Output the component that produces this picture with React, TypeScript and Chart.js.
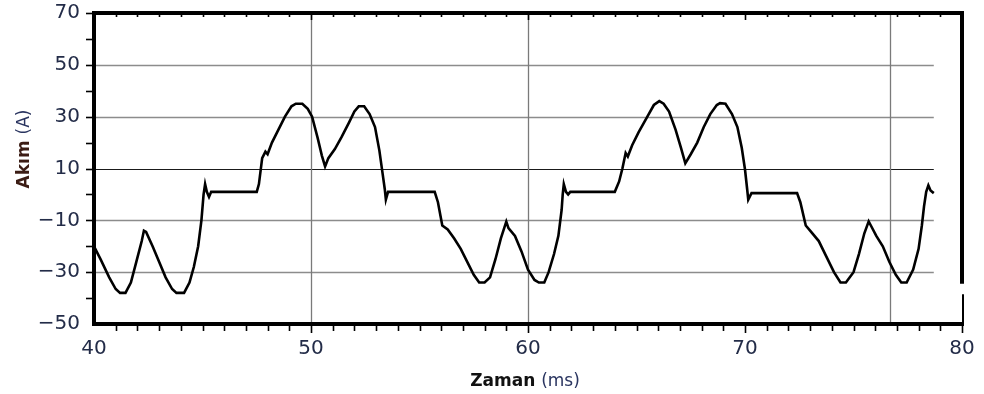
import React, { useEffect, useRef } from "react";
import { Chart, registerables } from "chart.js";

Chart.register(...registerables);

// Time (ms) and current (A) samples
const timeMs: number[] = [
  40.0, 40.3, 40.7, 41.0, 41.2, 41.45, 41.7, 41.95, 42.2, 42.3, 42.4, 42.7, 43.0, 43.3, 43.6, 43.8, 44.15, 44.4, 44.6, 44.8,
  44.95, 45.05, 45.12, 45.2, 45.3, 45.4, 47.5, 47.6, 47.75, 47.9, 48.0, 48.2, 48.5, 48.8, 49.1, 49.3, 49.6, 49.85, 50.05, 50.3,
  50.5, 50.65, 50.8, 51.1, 51.4, 51.75, 52.0, 52.2, 52.45, 52.7, 52.95, 53.15, 53.3, 53.4, 53.45, 53.55, 55.7, 55.85, 56.05, 56.3,
  56.6, 56.9, 57.2, 57.5, 57.75, 58.0, 58.25, 58.5, 58.75, 59.0, 59.1, 59.4, 59.7, 60.0, 60.3, 60.5, 60.75, 60.95, 61.2, 61.4,
  61.55, 61.6, 61.65, 61.75, 61.85, 61.95, 64.0, 64.2, 64.35, 64.5, 64.6, 64.8, 65.1, 65.5, 65.8, 66.05, 66.25, 66.5, 66.8, 67.05,
  67.25, 67.5, 67.8, 68.1, 68.4, 68.7, 68.85, 69.1, 69.4, 69.65, 69.85, 70.0, 70.1, 70.15, 70.3, 72.4, 72.55, 72.8, 73.0, 73.4,
  73.75, 74.1, 74.4, 74.65, 75.0, 75.25, 75.5, 75.7, 75.8, 76.05, 76.35, 76.65, 76.95, 77.2, 77.45, 77.75, 78.0, 78.15, 78.25, 78.35,
  78.45, 78.55, 78.7,
];

const currentA: number[] = [
  -20, -25, -32, -36.5, -38, -38, -34, -26, -18, -14, -14.5, -20, -26, -32, -36.5, -38, -38, -34, -28, -20,
  -10, 0, 4, 1, -1, 1, 1, 4, 14, 16.5, 15.5, 20, 25, 30, 34, 35, 35, 33, 30, 22,
  15, 10.8, 14, 17.5, 22, 27.7, 32, 34, 34, 31, 26, 17, 8, 2, -2, 1, 1, -3, -12, -13.5,
  -17, -21, -26, -31, -34, -34, -32, -25, -17, -10.5, -13, -16, -22, -29, -33, -34, -34, -30, -23, -16,
  -6, 0, 4, 1, 0, 1, 1, 5, 10, 16, 14.6, 19, 24, 30, 34.5, 36, 35, 32, 25, 18,
  12, 15.5, 20, 26, 31, 34.5, 35.2, 35, 31, 26, 18, 9.6, 2, -2, 0.5, 0.5, -3, -12, -14, -18,
  -24, -30, -34, -34, -30, -23, -15, -10.4, -12, -16, -20, -26, -31, -34, -34, -29, -21, -12, -4.6, 1,
  3.5, 1.5, 0.5,
];

const xMin = 40;
const xMax = 80;
const yMin = -50;
const yMax = 70;
const hGridValues: number[] = [50, 30, 10, -10, -30];
const vGridValues: number[] = [50, 60, 76.7];
const gridEndTime = 78.7;

const xTitleBold = "Zaman";
const xTitleNormal = "(ms)";
const yTitleBold = "Akım";
const yTitleNormal = "(A)";

const FONT = "'DejaVu Sans', 'Liberation Sans', sans-serif";
const LABEL_COLOR = "#232c48";
const NAVY = "#2a3560";

const framePlugin = {
  id: "framePlugin",
  beforeDatasetsDraw(chart: any) {
    const { ctx, chartArea, scales } = chart;
    const xs = scales.x;
    const ys = scales.y;
    ctx.save();
    const xEnd = xs.getPixelForValue(gridEndTime);
    hGridValues.forEach((v) => {
      const y = Math.round(ys.getPixelForValue(v)) + 0.5;
      ctx.beginPath();
      ctx.strokeStyle = v === 10 ? "#1a1a1a" : "#8c8c8c";
      ctx.lineWidth = v === 10 ? 1.2 : 1.3;
      ctx.moveTo(chartArea.left, y);
      ctx.lineTo(xEnd, y);
      ctx.stroke();
    });
    vGridValues.forEach((t) => {
      const x = Math.round(xs.getPixelForValue(t)) + 0.5;
      ctx.beginPath();
      ctx.strokeStyle = "#7a7a7a";
      ctx.lineWidth = 1.3;
      ctx.moveTo(x, chartArea.top);
      ctx.lineTo(x, chartArea.bottom);
      ctx.stroke();
    });
    ctx.restore();
  },
  afterDatasetsDraw(chart: any) {
    const { ctx, chartArea, scales } = chart;
    const xs = scales.x;
    const ys = scales.y;
    const { left, right, top, bottom } = chartArea;
    ctx.save();
    ctx.strokeStyle = "#000";
    ctx.lineWidth = 1.6;
    for (let t = xMin + 1; t <= xMax; t += 1) {
      const x = Math.round(xs.getPixelForValue(t)) + 0.5;
      const major = t % 10 === 0;
      ctx.beginPath();
      ctx.moveTo(x, bottom);
      ctx.lineTo(x, bottom + (major ? 9 : 7));
      ctx.stroke();
      if (t < xMax) {
        ctx.beginPath();
        ctx.moveTo(x, top);
        ctx.lineTo(x, top + (major ? 7 : 4));
        ctx.stroke();
      }
    }
    for (let v = yMin + 10; v <= yMax; v += 10) {
      const y = Math.round(ys.getPixelForValue(v)) + 0.5;
      ctx.beginPath();
      ctx.moveTo(left, y);
      ctx.lineTo(left - 8, y);
      ctx.stroke();
    }
    ctx.lineWidth = 4;
    ctx.beginPath();
    ctx.moveTo(left, top);
    ctx.lineTo(right, top);
    ctx.moveTo(left, top - 2);
    ctx.lineTo(left, bottom + 2);
    ctx.moveTo(left - 2, bottom);
    ctx.lineTo(right + 2, bottom);
    ctx.stroke();
    ctx.beginPath();
    ctx.moveTo(right, top - 2);
    ctx.lineTo(right, ys.getPixelForValue(-34.5));
    ctx.stroke();
    ctx.lineWidth = 2;
    ctx.beginPath();
    ctx.moveTo(right + 1, ys.getPixelForValue(-38.5));
    ctx.lineTo(right + 1, bottom);
    ctx.stroke();

    ctx.textBaseline = "alphabetic";
    ctx.font = `bold 17px ${FONT}`;
    const wb = ctx.measureText(xTitleBold + " ").width;
    ctx.font = `17px ${FONT}`;
    const wn = ctx.measureText(xTitleNormal).width;
    const cx = (left + right) / 2 - 3;
    const sx = cx - (wb + wn) / 2;
    ctx.font = `bold 17px ${FONT}`;
    ctx.fillStyle = "#111111";
    ctx.fillText(xTitleBold, sx, 386);
    ctx.font = `17px ${FONT}`;
    ctx.fillStyle = NAVY;
    ctx.fillText(xTitleNormal, sx + wb, 386);

    ctx.translate(29, 149);
    ctx.rotate(-Math.PI / 2);
    ctx.font = `bold 17px ${FONT}`;
    const wb2 = ctx.measureText(yTitleBold + " ").width;
    ctx.font = `17px ${FONT}`;
    const wn2 = ctx.measureText(yTitleNormal).width;
    const sy = -(wb2 + wn2) / 2;
    ctx.font = `bold 17px ${FONT}`;
    ctx.fillStyle = "#3b1c14";
    ctx.fillText(yTitleBold, sy, 0);
    ctx.font = `17px ${FONT}`;
    ctx.fillStyle = NAVY;
    ctx.fillText(yTitleNormal, sy + wb2, 0);
    ctx.restore();
  },
};

export default function App() {
  const canvasRef = useRef<HTMLCanvasElement | null>(null);

  useEffect(() => {
    if (!canvasRef.current) return;
    const points = timeMs.map((t, i) => ({ x: t, y: currentA[i] }));
    const chart = new Chart(canvasRef.current, {
      type: "line",
      data: {
        datasets: [
          {
            data: points,
            borderColor: "#000000",
            borderWidth: 2.6,
            pointRadius: 0,
            tension: 0,
            fill: false,
          },
        ],
      },
      options: {
        animation: false,
        responsive: true,
        maintainAspectRatio: false,
        layout: { padding: { left: 0, top: 13, right: 22, bottom: 0 } },
        plugins: { legend: { display: false }, tooltip: { enabled: false } },
        scales: {
          x: {
            type: "linear",
            min: xMin,
            max: xMax,
            grid: { display: false, drawTicks: false },
            border: { display: false },
            ticks: {
              stepSize: 10,
              padding: 13,
              color: LABEL_COLOR,
              font: { family: FONT, size: 20 },
              maxRotation: 0,
            },
            afterFit: (s: any) => {
              s.height = 70;
              s.paddingLeft = 0;
              s.paddingRight = 0;
            },
          },
          y: {
            type: "linear",
            min: yMin,
            max: yMax,
            grid: { display: false, drawTicks: false },
            border: { display: false },
            ticks: {
              stepSize: 20,
              padding: 14,
              color: LABEL_COLOR,
              font: { family: FONT, size: 20 },
              callback: (v: any) => String(v).replace("-", "\u2212"),
            },
            afterFit: (s: any) => {
              s.width = 94;
              s.paddingTop = 0;
              s.paddingBottom = 0;
            },
          },
        },
      },
      plugins: [framePlugin],
    });
    return () => chart.destroy();
  }, []);

  return (
    <div style={{ position: "absolute", left: 0, top: 0, width: 984, height: 394, background: "#fff" }}>
      <canvas ref={canvasRef} />
    </div>
  );
}
